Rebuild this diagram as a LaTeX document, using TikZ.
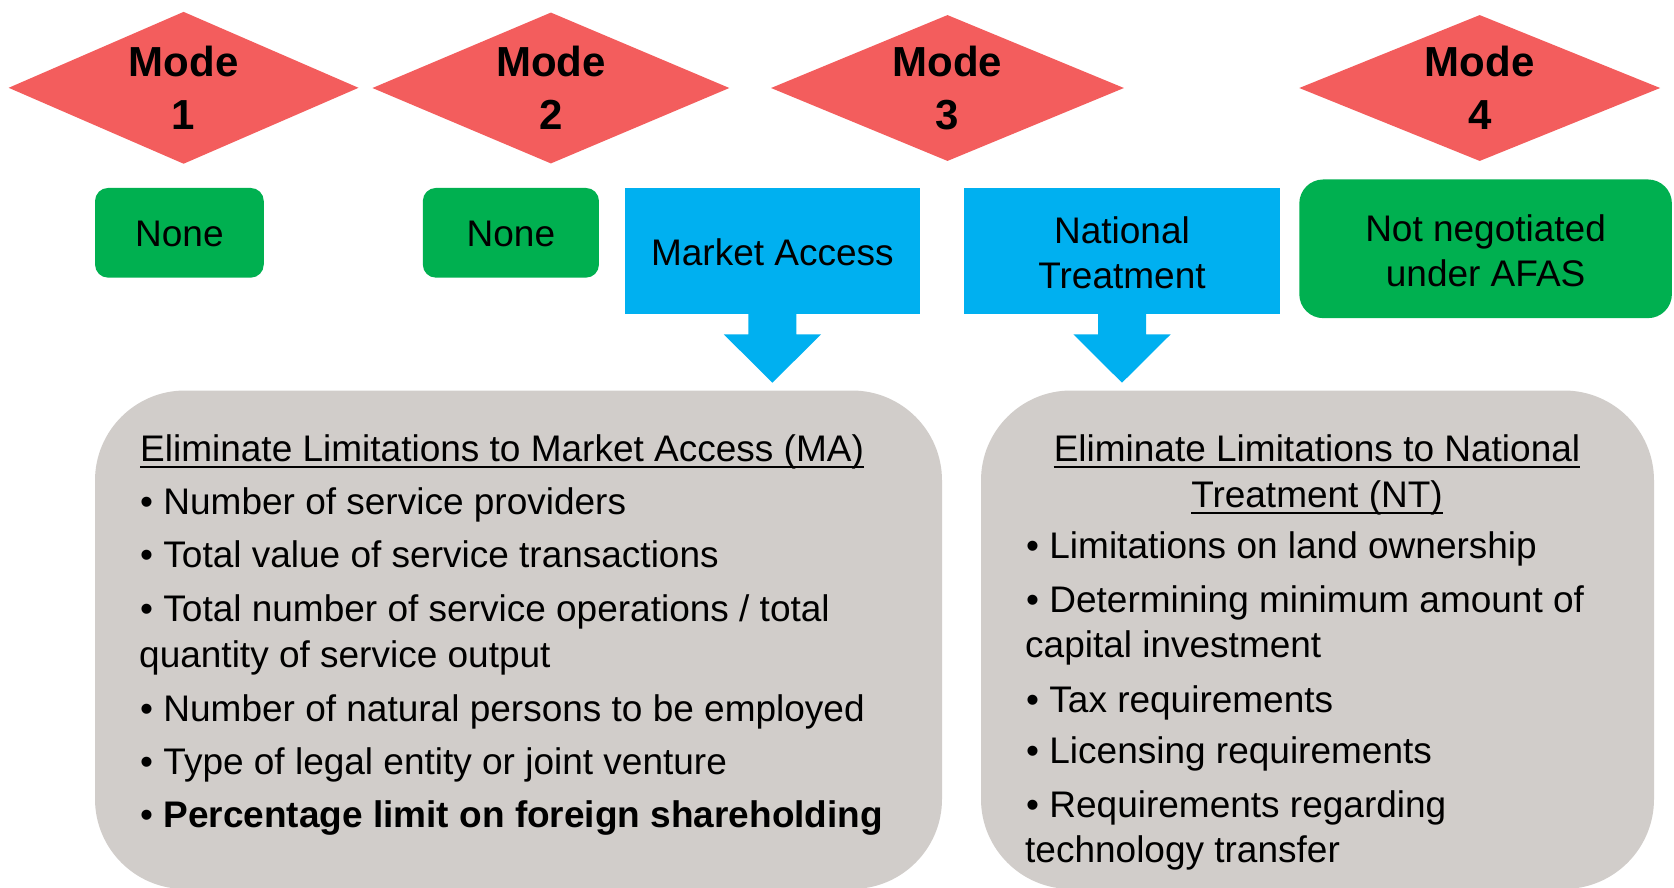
\documentclass[tikz,border=0pt]{standalone}
\usepackage{fontspec}
\setmainfont{Liberation Sans}
\usetikzlibrary{shapes.geometric}
\definecolor{modered}{RGB}{243,93,93}
\definecolor{okgreen}{RGB}{0,176,80}
\definecolor{pillarblue}{RGB}{0,176,240}
\definecolor{panelgray}{RGB}{209,205,202}

\begin{document}
\begin{tikzpicture}[x=1pt,y=-1pt,
  modebox/.style={diamond, aspect=2.3, fill=modered, inner sep=0pt, align=center,
    font=\bfseries\fontsize{42}{53}\selectfont},
  greenbox/.style={fill=okgreen, inner sep=0pt, rounded corners=13pt},
  bluebox/.style={fill=pillarblue, inner sep=0pt},
  boxtext/.style={inner sep=0pt, align=center, font=\fontsize{37}{45}\selectfont},
  panel/.style={fill=panelgray, inner sep=0pt, rounded corners=90pt},
  bodyline/.style={inner sep=0pt, anchor=base west, font=\fontsize{37}{46}\selectfont},
  headline/.style={inner sep=0pt, anchor=base, font=\fontsize{37}{46}\selectfont},
  uline/.style={line width=2pt}
]
\useasboundingbox (0,0) rectangle (1674,887);
\clip (0,0) rectangle (1674,887);
\fill[white] (0,0) rectangle (1674,887);

% modes of supply
\node[modebox, minimum width=350, minimum height=152] (m1) at (183.6,87.8) {Mode\\1};
\node[modebox, minimum width=357, minimum height=151] (m2) at (550.9,88) {Mode\\2};
\node[modebox, minimum width=353, minimum height=146] (m3) at (947.5,88) {Mode\\3};
\node[modebox, minimum width=361, minimum height=146] (m4) at (1479.7,88) {Mode\\4};

% commitments per mode
\node[greenbox, minimum width=168.7, minimum height=89.7] (n1) at (179.4,232.8) {};
\node[greenbox, minimum width=176.1, minimum height=89.7] (n2) at (510.9,232.8) {};
\node[bluebox, minimum width=295.8, minimum height=126] (ma) at (772.4,250.9) {};
\node[bluebox, minimum width=316, minimum height=126] (nt) at (1122,250.9) {};
\node[greenbox, rounded corners=24pt, minimum width=372.6, minimum height=138.7] (afas)
  at (1485.6,248.8) {};

\node[boxtext] (n1t) at ([yshift=-1pt]n1.center) {None};
\node[boxtext] (n2t) at ([yshift=-1pt]n2.center) {None};
\node[boxtext] (mat) at ([yshift=-1pt]ma.center) {Market Access};
\node[boxtext] (ntt) at ([yshift=-2pt]nt.center) {National\\Treatment};
\node[boxtext] (afast) at ([yshift=-2pt]afas.center) {Not negotiated\\under AFAS};

% down arrows under the blue boxes
\fill[pillarblue] ([xshift=-24pt]ma.south) -- ++(0,20.3) -- ++(-24.6,0) -- ++(48.6,48.3)
  -- ++(48.6,-48.3) -- ++(-24.6,0) -- ++(0,-20.3) -- cycle;
\fill[pillarblue] ([xshift=-24pt]nt.south) -- ++(0,20.3) -- ++(-24.6,0) -- ++(48.6,48.3)
  -- ++(48.6,-48.3) -- ++(-24.6,0) -- ++(0,-20.3) -- cycle;

% detail panels
\node[panel, minimum width=847, minimum height=498.5] (pma) at (518.5,639.75) {};
\node[panel, minimum width=673, minimum height=498.5] (pnt) at (1317.5,639.75) {};

% market access limitations
\node[bodyline] (maHead) at (140,461) {Eliminate Limitations to Market Access (MA)};
\draw[uline] ([yshift=-6pt]maHead.base west) -- ([yshift=-6pt]maHead.base east);
\node[bodyline] (ma1) at (140,514.3) {• Number of service providers};
\node[bodyline] (ma2) at (140,567.7) {• Total value of service transactions};
\node[bodyline] (ma3) at (140,621.7) {• Total number of service operations / total};
\node[bodyline] (ma3b) at (139,667.7) {quantity of service output};
\node[bodyline] (ma4) at (140,721.7) {• Number of natural persons to be employed};
\node[bodyline] (ma5) at (140,774.3) {• Type of legal entity or joint venture};
\node[bodyline] (ma6) at (140,827.7) {• \textbf{Percentage limit on foreign shareholding}};

% national treatment limitations
\node[headline] (ntHeadA) at (1317,461) {Eliminate Limitations to National};
\draw[uline] ([yshift=-6pt]ntHeadA.base west) -- ([yshift=-6pt]ntHeadA.base east);
\node[headline] (ntHeadB) at (1317,507) {Treatment (NT)};
\draw[uline] ([yshift=-6pt]ntHeadB.base west) -- ([yshift=-6pt]ntHeadB.base east);
\node[bodyline] (nt1) at (1026,558.8) {• Limitations on land ownership};
\node[bodyline] (nt2) at (1026,612.8) {• Determining minimum amount of};
\node[bodyline] (nt2b) at (1025,657.2) {capital investment};
\node[bodyline] (nt3) at (1026,712.2) {• Tax requirements};
\node[bodyline] (nt4) at (1026,763.8) {• Licensing requirements};
\node[bodyline] (nt5) at (1026,817.2) {• Requirements regarding};
\node[bodyline] (nt5b) at (1025,862.2) {technology transfer};
\end{tikzpicture}
\end{document}
